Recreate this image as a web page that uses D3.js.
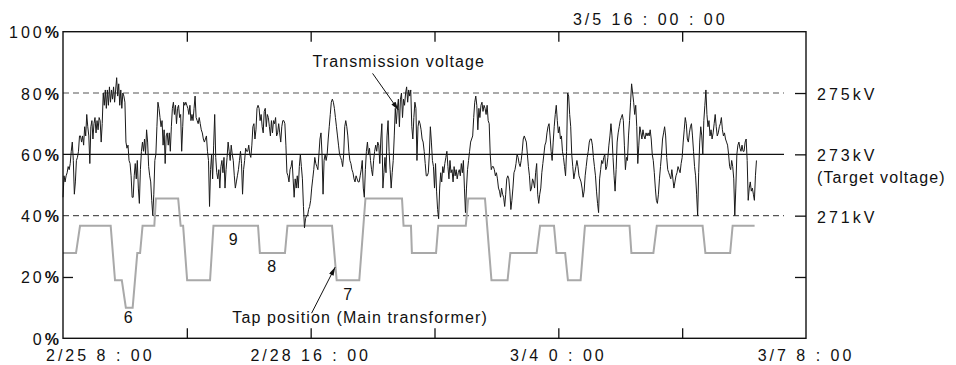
<!DOCTYPE html>
<html>
<head>
<meta charset="utf-8">
<script src="https://cdn.jsdelivr.net/npm/d3@7"></script>
<style>
  body { margin: 0; background: #fff; }
  text { font-family: Arial, "Liberation Sans", Helvetica, sans-serif; font-size: 16px; fill: #111; }
  .num { letter-spacing: 3px; white-space: pre; }
  .word { letter-spacing: 1.1px; }
</style>
</head>
<body>
<svg id="chart"></svg>
<script>
// transmission voltage, % of scale, one sample every 20 min from 2/25 8:00
var voltStepMin = 20;
var voltPct = [
  46,53,51,53,54,56,55,57,61,64,58,47,51,58,59,61,66,66,64,66,63,69,66,73,69,66,57,69,71,65,70,72,67,71,68,72,71,64,70,80,
  76,81,75,81,76,82,77,81,78,82,77,81,85,79,83,76,81,75,80,79,77,64,62,63,58,57,53,46,46,53,57,52,58,49,44,55,61,64,61,65,
  60,68,64,56,53,51,45,40,47,58,60,69,77,75,72,69,71,63,68,57,66,67,63,67,61,69,75,77,73,76,70,75,76,
  72,73,61,69,77,76,77,76,75,73,76,71,73,71,75,79,72,71,70,72,70,68,67,65,64,65,66,61,58,43,55,60,52,63,73,59,54,52,55,49,
  56,58,54,59,49,55,59,64,61,58,63,60,58,53,49,51,53,55,58,61,57,47,55,58,62,61,61,63,60,59,63,69,70,65,68,75,76,75,71,73,
  69,67,74,75,69,73,72,69,66,71,67,71,70,72,66,67,70,67,64,69,71,71,70,63,54,53,51,55,56,58,52,46,52,49,53,
  49,56,60,56,52,43,36,39,40,40,42,43,45,49,52,55,59,57,56,55,60,65,67,60,47,58,60,58,60,65,69,73,77,78,77,75,72,69,66,63,
  60,59,58,56,60,69,71,69,66,61,58,57,55,54,52,51,53,52,51,51,53,55,58,49,46,55,61,64,60,62,58,55,53,58,61,63,61,64,63,57,
  65,70,49,54,59,54,66,71,61,55,49,54,58,66,75,70,75,78,69,78,80,72,78,76,80,82,77,81,79,81,69,65,72,77,75,
  58,69,71,70,68,65,64,61,57,53,53,54,60,69,64,58,56,49,57,48,42,39,49,54,51,56,54,57,59,61,56,52,58,54,55,51,56,53,55,52,
  54,55,53,57,54,58,49,41,49,55,58,61,64,65,66,72,77,79,76,68,75,72,76,77,74,76,75,73,76,71,70,60,55,56,56,55,53,54,52,49,
  48,46,49,47,46,43,47,52,53,52,48,42,45,49,54,55,57,60,59,57,56,58,61,65,66,65,64,60,56,53,48,49,52,51,
  49,54,57,47,44,47,49,54,57,60,63,64,67,69,70,66,61,58,64,69,73,76,71,67,69,65,66,61,59,56,53,61,80,79,73,69,60,56,52,54,
  56,58,56,53,52,51,49,46,48,53,56,59,61,64,65,65,63,59,56,53,48,44,41,52,55,58,57,59,60,55,56,59,63,66,70,66,59,53,48,55,
  64,67,69,71,72,73,71,63,55,59,58,66,71,77,83,80,77,73,76,69,57,63,69,67,65,68,66,65,67,66,67,66,68,65,
  60,58,54,49,45,44,47,52,56,60,65,67,69,66,59,55,54,53,52,55,52,49,51,53,54,56,55,54,57,59,64,68,72,70,65,64,67,69,70,66,
  61,56,53,47,40,54,64,69,66,60,71,76,81,73,69,71,66,68,65,67,70,73,69,66,67,69,70,72,68,66,67,65,64,63,60,56,55,58,56,52,
  40,49,60,63,64,62,61,63,61,61,64,65,58,45,49,51,48,49,47,45,53,58
];

// tap position of the main transformer (tap number) at break points, hours from 2/25 8:00
var tapHours = [0, 4.2, 5.5, 15.4, 16.8, 19.0, 20.3, 22.5, 24.0, 24.9, 25.7, 29.5, 30.0, 37.2, 38.0, 38.8, 40.1, 47.5, 48.6, 63.0,
  63.6, 71.7, 72.5, 86.9, 88.4, 95.7, 97.7, 109.5, 110.0, 112.4, 112.7, 120.5, 121.2, 130.1, 130.9, 136.3, 138.4, 143.6, 144.5, 153.0,
  154.1, 158.6, 159.4, 162.2, 163.1, 167.2, 168.6, 183.0, 183.6, 190.7, 191.8, 206.6, 207.5, 215.5, 216.3, 223.4];
var tapLevels = [8,8,9,9,7,7,6,6,8,8, 9,9,10,10,9,9,7,7,9,9, 8,8,9,9,7,7,10,10,9,9, 8,8,9,9,10,10,7,7,8,8, 9,9,8,8,7,7,9,9,8,8, 9,9,8,8,9,9];

var pctTicks = [0, 20, 40, 60, 80, 100];
var kvTicks = [269, 271, 273, 275];
var kvLabels = [271, 273, 275];
var timeTicks = [40, 80, 120, 160, 200];
var timeLabelHours = [0, 80, 160, 240];
var timeLabels = ["2/25 8 : 00", "2/28 16 : 00", "3/4 0 : 00", "3/7 8 : 00"];
var cursorLabel = "3/5 16 : 00 : 00";
var tapNumbers = [6, 9, 8, 7];
var tapNumberPos = [[21.1, 4.9], [55.0, 30.4], [67.4, 21.7], [92.0, 12.5]];

var W = 956, H = 365;
var margin = {top: 31.7, right: 150, bottom: 26.7, left: 63};
var x = d3.scaleLinear().domain([0, 240]).range([margin.left, W - margin.right]);
var y = d3.scaleLinear().domain([0, 100]).range([H - margin.bottom, margin.top]);
var yKv = d3.scaleLinear().domain([271, 275]).range([y(40), y(80)]);
var yTap = d3.scaleLinear().domain([6, 10]).range([y(10), y(45.6)]);

var svg = d3.select("#chart").attr("width", W).attr("height", H);

svg.append("defs").append("marker")
    .attr("id", "arrow")
    .attr("viewBox", "0 0 10 6")
    .attr("refX", 10).attr("refY", 3)
    .attr("markerWidth", 9).attr("markerHeight", 5)
    .attr("markerUnits", "userSpaceOnUse")
    .attr("orient", "auto")
  .append("path").attr("d", "M0,0L10,3L0,6Z").attr("fill", "#111");

var lineEnd = W - 172;

// reference levels
svg.selectAll("line.ref")
    .data([40, 60, 80])
  .enter().append("line")
    .attr("class", "ref")
    .attr("x1", x(0)).attr("x2", lineEnd)
    .attr("y1", function(d){ return y(d); })
    .attr("y2", function(d){ return y(d); })
    .attr("stroke", function(d){ return d == 60 ? "#111" : "#555"; })
    .attr("stroke-width", function(d){ return d == 60 ? 1.3 : 1.1; })
    .attr("stroke-dasharray", function(d){ return d == 60 ? null : "6,4"; });

// tap position
var tapData = tapHours.map(function(h, i){ return {h: h, t: tapLevels[i]}; });
svg.append("path")
    .datum(tapData)
    .attr("fill", "none")
    .attr("stroke", "#a9a9a9")
    .attr("stroke-width", 2)
    .attr("d", d3.line().x(function(d){ return x(d.h); }).y(function(d){ return yTap(d.t); }));

// voltage
var volt = voltPct.map(function(v, i){ return {h: i * voltStepMin / 60, v: v}; });
svg.append("path")
    .datum(volt)
    .attr("fill", "none")
    .attr("stroke", "#1a1a1a")
    .attr("stroke-width", 1)
    .attr("stroke-linejoin", "round")
    .attr("d", d3.line().x(function(d){ return x(d.h); }).y(function(d){ return y(d.v); }));

// frame + inner ticks
svg.append("rect")
    .attr("x", x(0)).attr("y", y(100))
    .attr("width", x(240) - x(0)).attr("height", y(0) - y(100))
    .attr("fill", "none").attr("stroke", "#111").attr("stroke-width", 1.4);

function ticks(g){ g.select(".domain").remove(); g.selectAll("text").remove(); g.selectAll("line").attr("stroke", "#111").attr("stroke-width", 1.3); }
svg.append("g").attr("transform", "translate(" + x(0) + ",0)")
    .call(d3.axisLeft(y).tickValues([20]).tickSizeInner(-10).tickSizeOuter(0)).call(ticks);
svg.append("g").attr("transform", "translate(" + x(240) + ",0)")
    .call(d3.axisRight(yKv).tickValues(kvTicks).tickSizeInner(-11).tickSizeOuter(0)).call(ticks);
svg.append("g").attr("transform", "translate(0," + y(100) + ")")
    .call(d3.axisTop(x).tickValues(timeTicks).tickSizeInner(-10).tickSizeOuter(0)).call(ticks);
svg.append("g").attr("transform", "translate(0," + y(0) + ")")
    .call(d3.axisBottom(x).tickValues(timeTicks).tickSizeInner(-10).tickSizeOuter(0)).call(ticks);

// left labels
var pl = svg.selectAll("text.pct")
    .data(pctTicks)
  .enter().append("text")
    .attr("class", "pct num")
    .attr("x", x(0) - 1)
    .attr("y", function(d){ return y(d) + 6.5; })
    .attr("text-anchor", "end");
pl.append("tspan").text(function(d){ return d; });
pl.append("tspan").attr("font-weight", "bold").text("%");

// right labels
svg.selectAll("text.kv")
    .data(kvLabels)
  .enter().append("text")
    .attr("class", "kv num")
    .attr("x", x(240) + 11)
    .attr("y", function(d){ return yKv(d) + 7; })
    .text(function(d){ return d + "kV"; });
svg.append("text")
    .attr("class", "word")
    .attr("x", x(240) + 11)
    .attr("y", yKv(273) + 29)
    .text("(Target voltage)");

// time labels
svg.selectAll("text.time")
    .data(timeLabelHours)
  .enter().append("text")
    .attr("class", "time num")
    .attr("x", function(d){ return d == 0 ? x(0) - 17 : x(d); })
    .attr("y", H - 4)
    .attr("text-anchor", function(d){ return d == 0 ? "start" : "middle"; })
    .text(function(d, i){ return timeLabels[i]; });

svg.append("text")
    .attr("class", "num")
    .attr("x", x(164.7))
    .attr("y", y(100) - 7)
    .text(cursorLabel);

// annotations
svg.append("text").attr("class", "word")
    .attr("x", x(80.6)).attr("y", y(88.6))
    .text("Transmission voltage");
svg.append("line")
    .attr("x1", x(100.0)).attr("y1", y(86.4))
    .attr("x2", x(108.3)).attr("y2", y(74.5))
    .attr("stroke", "#111").attr("stroke-width", 1)
    .attr("marker-end", "url(#arrow)");

svg.append("text").attr("class", "word")
    .attr("x", x(54.7)).attr("y", y(4.9))
    .text("Tap position (Main transformer)");
svg.append("line")
    .attr("x1", x(80.3)).attr("y1", y(8.2))
    .attr("x2", x(87.9)).attr("y2", y(23.2))
    .attr("stroke", "#111").attr("stroke-width", 1)
    .attr("marker-end", "url(#arrow)");

svg.selectAll("text.tapnum")
    .data(tapNumbers)
  .enter().append("text")
    .attr("class", "tapnum")
    .attr("text-anchor", "middle")
    .attr("x", function(d, i){ return x(tapNumberPos[i][0]); })
    .attr("y", function(d, i){ return y(tapNumberPos[i][1]); })
    .text(function(d){ return d; });
</script>
</body>
</html>
